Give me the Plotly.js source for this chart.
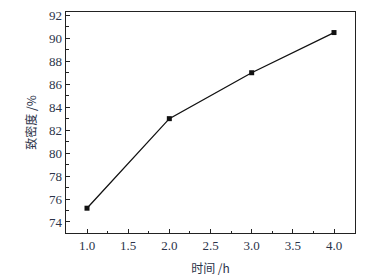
<!DOCTYPE html>
<html><head><meta charset="utf-8">
<script src="https://cdn.plot.ly/plotly-3.0.1.min.js"></script>
<style>html,body{margin:0;padding:0;background:#fff;}#c{width:370px;height:279px;}</style>
</head><body><div id="c"></div>
<script>
var hours = [1.0, 2.0, 3.0, 4.0];
var density = [75.2, 83.0, 87.0, 90.5];
var xTicks = [1.0, 1.5, 2.0, 2.5, 3.0, 3.5, 4.0];
var xTickText = ['1.0','1.5','2.0','2.5','3.0','3.5','4.0'];
var yTicks = [74, 76, 78, 80, 82, 84, 86, 88, 90, 92];
var xTitle = '时间 /h';
var yTitle = '致密度 /%';

var labelColor = '#2b3349';
var trace = {
  x: hours, y: density, type: 'scatter', mode: 'lines+markers',
  line: {color: '#111', width: 1.3},
  marker: {symbol: 'square', size: 5, color: '#111'}
};
var layout = {
  width: 370, height: 279,
  margin: {l: 66, r: 15, t: 12, b: 46},
  paper_bgcolor: '#fff', plot_bgcolor: '#fff',
  showlegend: false,
  xaxis: {
    range: [0.745, 4.255], tickvals: xTicks, ticktext: xTickText,
    ticks: 'inside', ticklen: 4, tickcolor: '#222', tickwidth: 1,
    minor: {dtick: 0.25, ticks: 'inside', ticklen: 2.5, tickcolor: '#222', showgrid: false},
    showline: true, linecolor: '#222', linewidth: 1.3, mirror: true,
    showgrid: false, zeroline: false,
    tickfont: {family: 'Liberation Serif, serif', size: 13, color: labelColor},
    title: {text: xTitle, font: {family: 'Noto Sans CJK SC', size: 12, color: labelColor}, standoff: 12}
  },
  yaxis: {
    range: [73.04, 92.29], tickvals: yTicks,
    ticks: 'inside', ticklen: 4, tickcolor: '#222', tickwidth: 1,
    minor: {dtick: 1, ticks: 'inside', ticklen: 2.5, tickcolor: '#222', showgrid: false},
    showline: true, linecolor: '#222', linewidth: 1.3, mirror: true,
    showgrid: false, zeroline: false,
    tickfont: {family: 'Liberation Serif, serif', size: 13, color: labelColor},
    title: {text: yTitle, font: {family: 'Noto Sans CJK SC', size: 12, color: labelColor}, standoff: 10}
  }
};
Plotly.newPlot('c', [trace], layout, {displayModeBar: false, staticPlot: true});
</script></body></html>
